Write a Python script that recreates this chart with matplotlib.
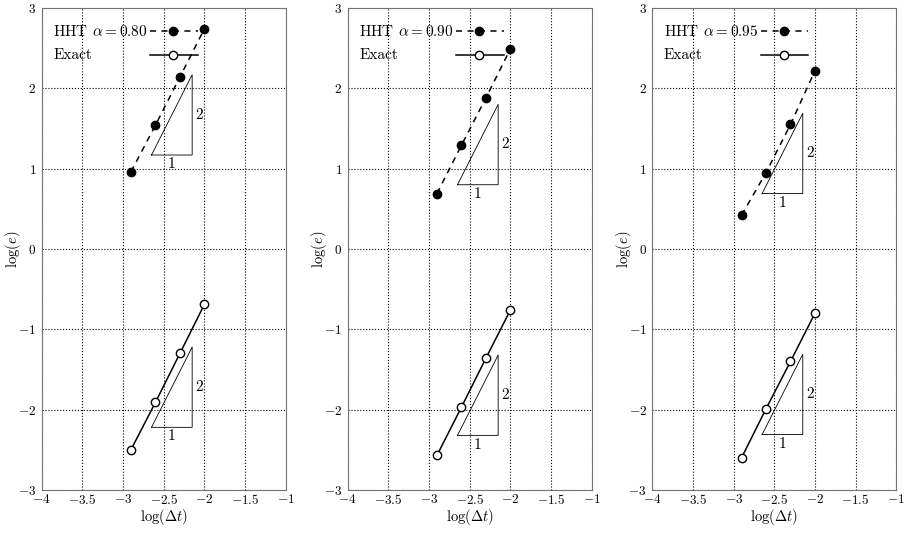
import matplotlib
matplotlib.use("Agg")
import matplotlib.pyplot as plt
import numpy as np

# reglages police facon LaTeX
plt.rcParams['font.family'] = 'cmr10'
plt.rcParams['mathtext.fontset'] = 'cm'
plt.rcParams['axes.formatter.use_mathtext'] = True
plt.rcParams['font.size'] = 11

# donnees
log_dt = [-2.903, -2.602, -2.301, -2.0]
alphas = ['0.80', '0.90', '0.95']
hht_err = [
    [0.96, 1.54, 2.14, 2.74],
    [0.69, 1.29, 1.88, 2.49],
    [0.42, 0.95, 1.55, 2.22],
]
exact_err = [
    [-2.50, -1.91, -1.30, -0.69],
    [-2.57, -1.97, -1.36, -0.76],
    [-2.60, -1.99, -1.40, -0.80],
]
# triangles de pente (base y) : haut et bas
tri_top = [1.17, 0.80, 0.69]
tri_bot = [-2.22, -2.32, -2.31]
tri_x = [-2.65, -2.15]

xticks = [-4, -3.5, -3, -2.5, -2, -1.5, -1]
yticks = [-3, -2, -1, 0, 1, 2, 3]

fig = plt.figure(figsize=(9.05, 5.35), dpi=100)
lefts = [41.7, 347.7, 652.3]

for i in range(3):
    ax = fig.add_axes([lefts[i] / 905, 1 - 490 / 535, 244 / 905, 482 / 535])

    hht_style = dict(color='k', linestyle='--', dashes=(4, 3.5), linewidth=1.1,
                     marker='o', markersize=6, markerfacecolor='k')
    exact_style = dict(color='k', linestyle='-', linewidth=1.1,
                       marker='o', markersize=6, markerfacecolor='white')

    ax.plot(log_dt, hht_err[i], **hht_style)
    ax.plot(log_dt, exact_err[i], **exact_style)

    # triangles
    for yb in [tri_top[i], tri_bot[i]]:
        x0, x1 = tri_x
        ax.plot([x0, x1, x1, x0], [yb, yb, yb + 1.0, yb], color='k', linewidth=0.6)
        ax.text(x1 + 0.04, yb + 0.5, '2', ha='left', va='center', fontsize=11)
        ax.text((x0 + x1) / 2, yb - 0.03, '1', ha='center', va='top', fontsize=11)

    # legende faite a la main (texte a gauche, trait a droite)
    ax.text(0.047, 0.952, r'HHT $\alpha = %s$' % alphas[i], transform=ax.transAxes,
            ha='left', va='center', fontsize=11)
    ax.text(0.047, 0.902, 'Exact', transform=ax.transAxes,
            ha='left', va='center', fontsize=11)
    ax.plot([0.445, 0.64], [0.952, 0.952], transform=ax.transAxes, markevery=[], **hht_style)
    ax.plot([0.54], [0.952], transform=ax.transAxes, linestyle='none', marker='o',
            markersize=6, color='k')
    ax.plot([0.445, 0.64], [0.902, 0.902], transform=ax.transAxes, markevery=[], **exact_style)
    ax.plot([0.54], [0.902], transform=ax.transAxes, linestyle='none', marker='o',
            markersize=6, color='k', markerfacecolor='white')

    ax.set_xlim(-4, -1)
    ax.set_ylim(-3, 3)
    ax.set_xticks(xticks)
    ax.set_yticks(yticks)
    ax.set_xticklabels(['$%g$' % t for t in xticks])
    ax.set_yticklabels(['$%g$' % t for t in yticks])
    ax.grid(True, linestyle=':', color='k', linewidth=0.8)
    ax.tick_params(direction='in', length=0, labelsize=9.5)
    ax.tick_params(axis='x', pad=2)
    ax.tick_params(axis='y', pad=4)
    for s in ax.spines.values():
        s.set_color('0.45')
    ax.set_xlabel(r'$\log(\Delta t)$', fontsize=10.5, labelpad=0)
    ax.set_ylabel(r'$\log(e)$', fontsize=10.5)
    ax.yaxis.set_label_coords(-0.075, 0.5)

plt.savefig('out.png', dpi=100)
